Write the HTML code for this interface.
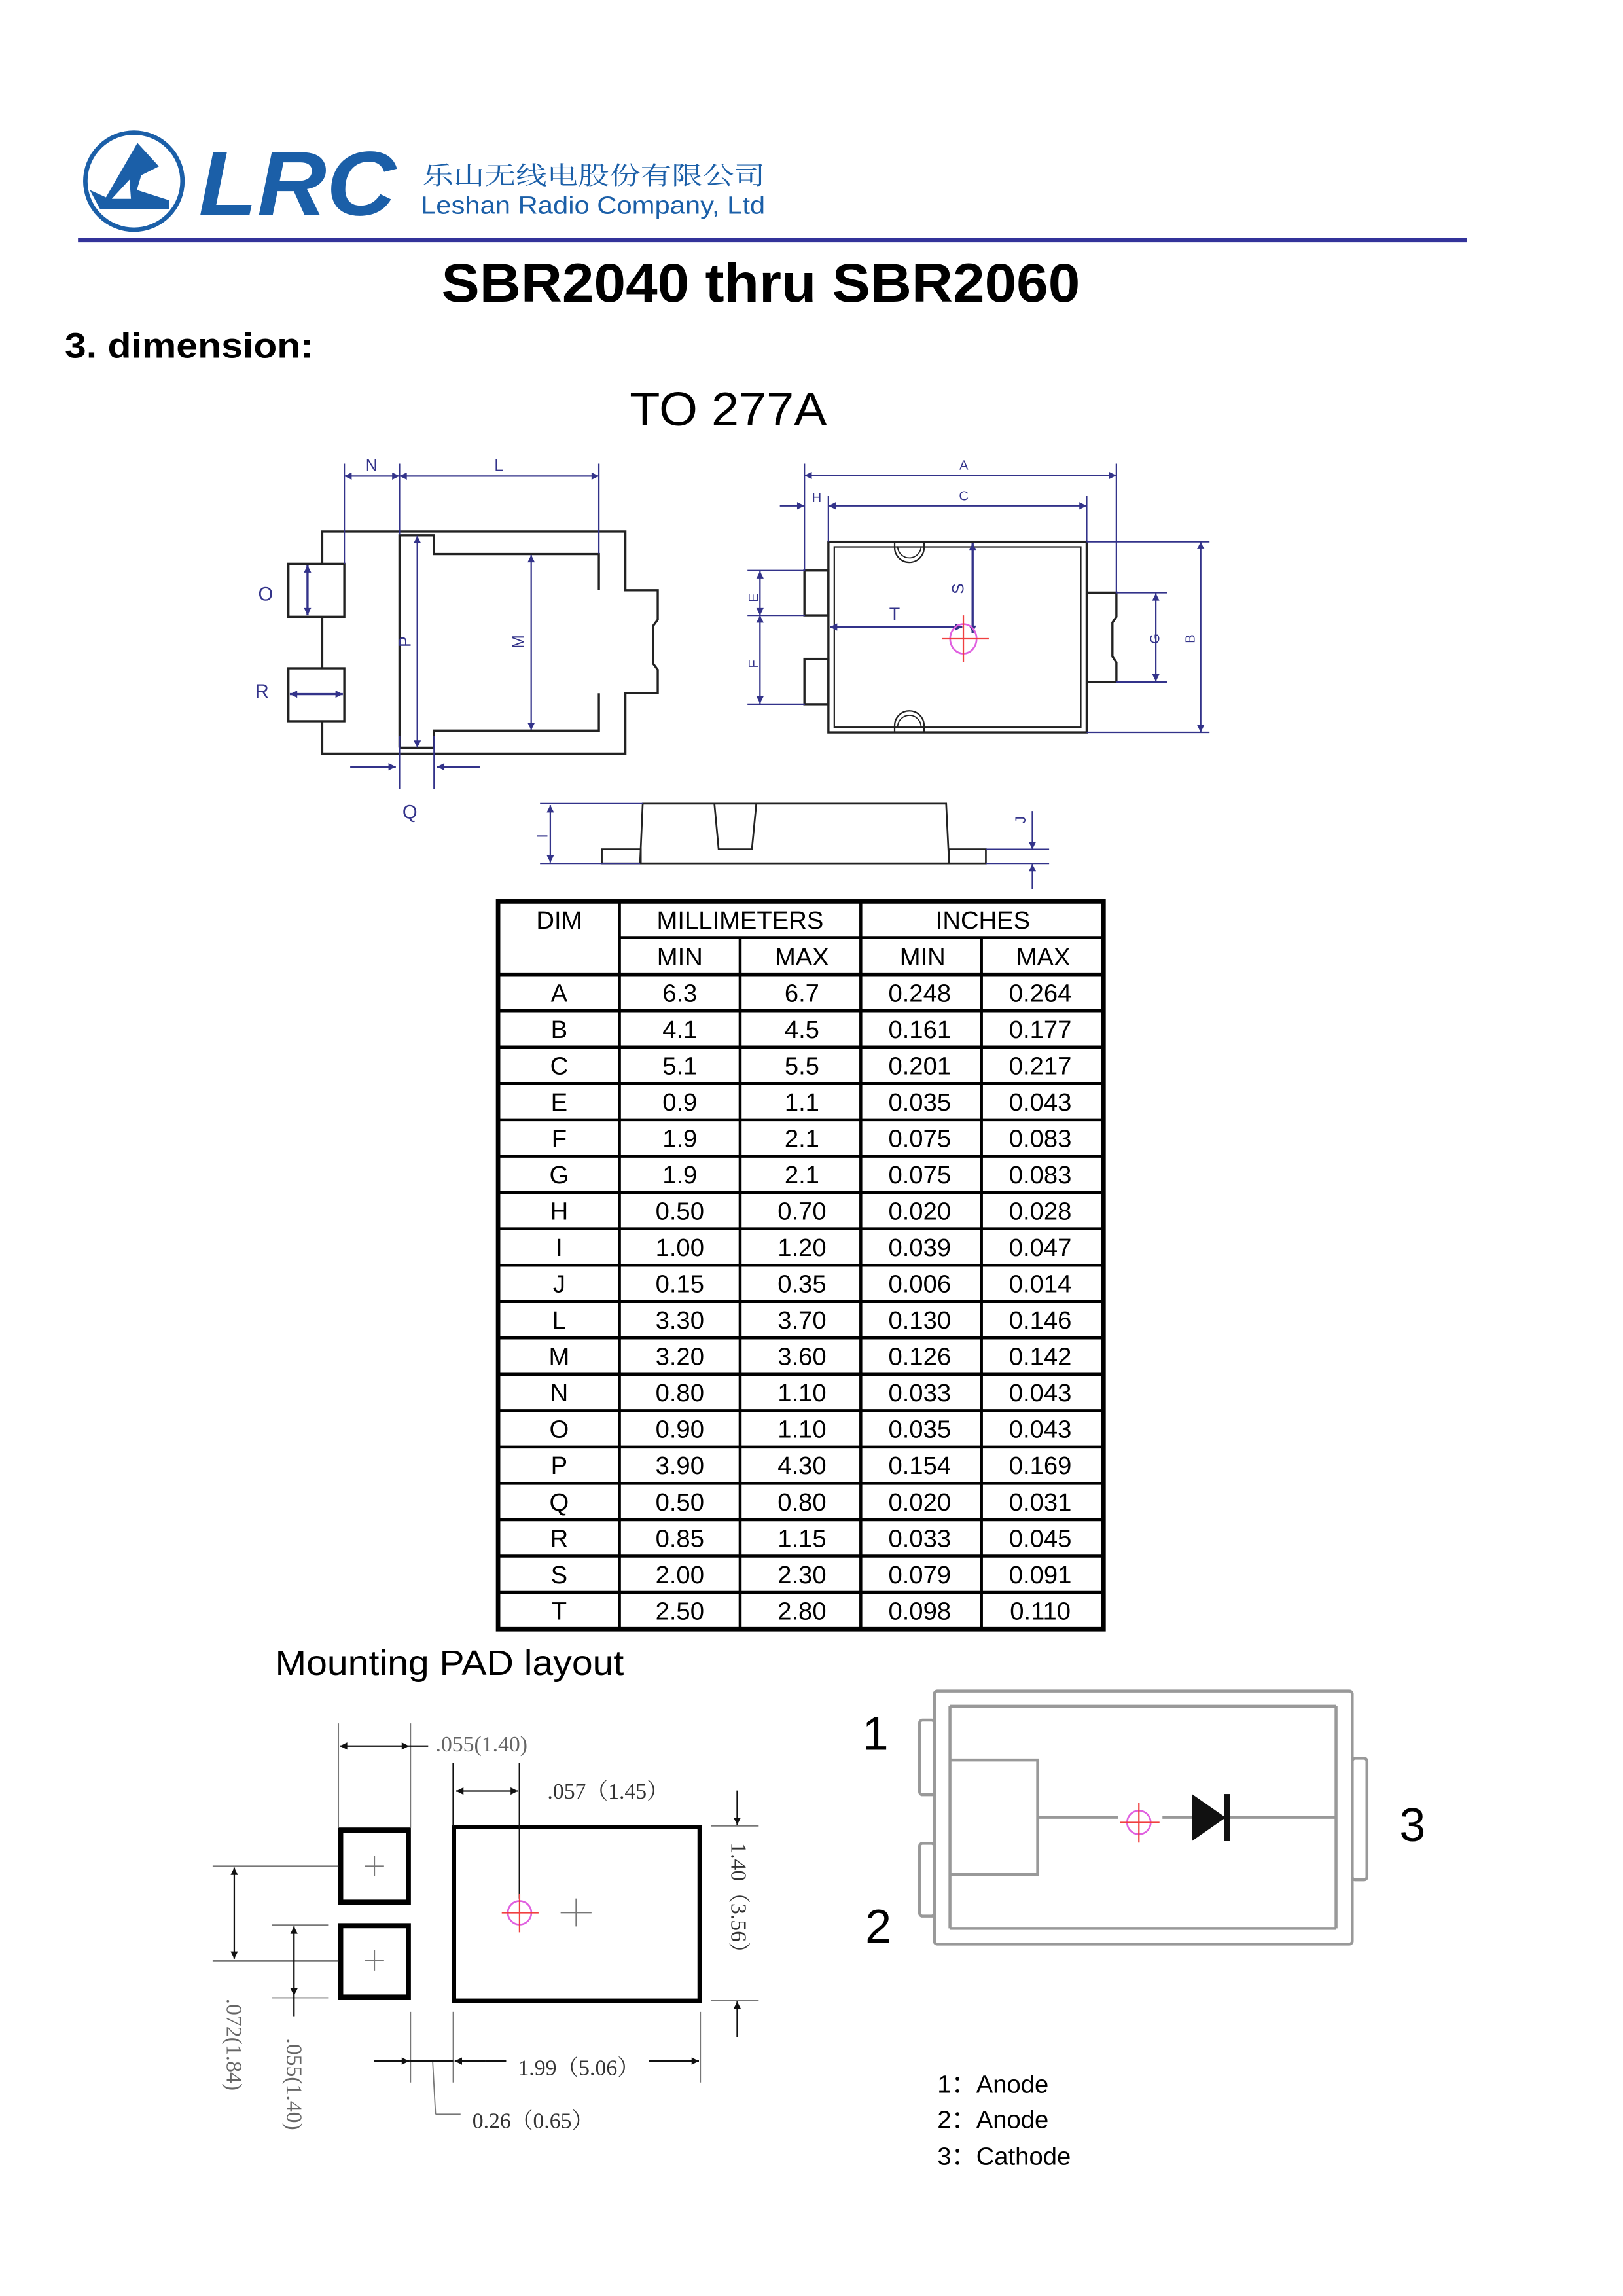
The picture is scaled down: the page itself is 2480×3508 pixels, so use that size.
<!DOCTYPE html>
<html><head><meta charset="utf-8"><style>
html,body{margin:0;padding:0;background:#fff;}
svg{display:block;}
text{font-family:"Liberation Sans","Noto Sans CJK SC",sans-serif;}
.ser{font-family:"Liberation Serif","Noto Serif CJK SC",serif;}
</style></head><body>
<svg width="2480" height="3508" viewBox="0 0 1103 1560" xmlns="http://www.w3.org/2000/svg">
<defs>
<marker id="ab" viewBox="0 0 10 10" refX="10" refY="5" markerWidth="7" markerHeight="5" orient="auto-start-reverse" markerUnits="userSpaceOnUse"><path d="M0,0 L10,5 L0,10 z" fill="#33338a"/></marker>
<marker id="ak" viewBox="0 0 10 10" refX="10" refY="5" markerWidth="8" markerHeight="5" orient="auto-start-reverse" markerUnits="userSpaceOnUse"><path d="M0,0 L10,5 L0,10 z" fill="#111"/></marker>
</defs>
<rect width="1103" height="1560" fill="#fff"/>

<!-- Header logo -->
<circle cx="91" cy="123" r="33" fill="none" stroke="#1b5fa8" stroke-width="3"/>
<polygon points="93.4,97 108,113 96,119 93,129 115,136 115,142 68,142 61,129 72,134" fill="#1b5fa8"/>
<polygon points="76,135 89,135 88,122" fill="#fff"/>
<text x="135" y="146" font-size="62" font-weight="bold" font-style="italic" fill="#1b5fa8" textLength="134" lengthAdjust="spacingAndGlyphs">LRC</text>
<text x="287" y="125" font-size="17" fill="#1b5fa8" textLength="233" lengthAdjust="spacingAndGlyphs" style="font-family:'Noto Serif CJK SC','Noto Sans CJK SC',serif">乐山无线电股份有限公司</text>
<text x="286" y="145" font-size="17" fill="#1b5fa8" textLength="234" lengthAdjust="spacingAndGlyphs">Leshan Radio Company, Ltd</text>
<line x1="53" y1="163" x2="997" y2="163" stroke="#33339a" stroke-width="3"/>

<text x="300" y="205" font-size="37" font-weight="bold" textLength="434" lengthAdjust="spacingAndGlyphs">SBR2040  thru SBR2060</text>
<text x="44" y="243" font-size="24" font-weight="bold" textLength="169" lengthAdjust="spacingAndGlyphs">3.  dimension:</text>
<text x="428" y="289" font-size="32" textLength="134" lengthAdjust="spacingAndGlyphs">TO 277A</text>

<!-- Left drawing -->
<g fill="none" stroke="#222" stroke-width="1.5">
<path d="M219,383 L219,361 L425,361 L425,401 L447,401 L447,421 L444,425 L444,451 L447,455 L447,471 L425,471 L425,512 L219,512 L219,490"/>
<line x1="219" y1="419" x2="219" y2="454"/>
<rect x="196" y="383" width="38" height="36"/>
<rect x="196" y="454" width="38" height="36"/>
<path d="M271.5,508 L271.5,363.6 L295,363.6 L295,376.4 L407,376.4 L407,401"/>
<path d="M407,471 L407,496.4 L295,496.4 L295,508 L271.5,508"/>
</g>
<g stroke="#33338a" stroke-width="1" fill="none">
<line x1="234" y1="315" x2="234" y2="383"/>
<line x1="271.5" y1="315" x2="271.5" y2="363"/>
<line x1="407" y1="315" x2="407" y2="376"/>
<line x1="234" y1="323.4" x2="271.5" y2="323.4" marker-start="url(#ab)" marker-end="url(#ab)"/>
<line x1="271.5" y1="323.4" x2="407" y2="323.4" marker-start="url(#ab)" marker-end="url(#ab)"/>
<line x1="283.6" y1="364" x2="283.6" y2="508" marker-start="url(#ab)" marker-end="url(#ab)"/>
<line x1="361" y1="377" x2="361" y2="496" marker-start="url(#ab)" marker-end="url(#ab)"/>
<line x1="209" y1="384" x2="209" y2="418" stroke-width="1.5" marker-start="url(#ab)" marker-end="url(#ab)"/>
<line x1="197" y1="471.6" x2="233" y2="471.6" stroke-width="1.5" marker-start="url(#ab)" marker-end="url(#ab)"/>
<line x1="271.5" y1="500" x2="271.5" y2="536"/>
<line x1="295" y1="500" x2="295" y2="536"/>
<line x1="238" y1="521" x2="269" y2="521" stroke-width="1.5" marker-end="url(#ab)"/>
<line x1="326" y1="521" x2="297" y2="521" stroke-width="1.5" marker-end="url(#ab)"/>
</g>
<g fill="#33338a" font-size="11">
<text x="252.5" y="320" text-anchor="middle">N</text>
<text x="339" y="320" text-anchor="middle">L</text>
<text x="180.5" y="408" text-anchor="middle" font-size="13">O</text>
<text x="178" y="474" text-anchor="middle" font-size="13">R</text>
<text x="278.5" y="556" text-anchor="middle" font-size="13">Q</text>
<text transform="translate(279,436) rotate(-90)" text-anchor="middle">P</text>
<text transform="translate(356,436) rotate(-90)" text-anchor="middle">M</text>
</g>

<!-- Right drawing -->
<g fill="none" stroke="#222" stroke-width="1.5">
<rect x="563" y="368" width="175.5" height="129.6"/>
<rect x="567" y="371.5" width="167.5" height="122.6" stroke-width="1"/>
<rect x="546.7" y="387.6" width="16.3" height="30.4"/>
<rect x="546.7" y="447.6" width="16.3" height="30.8"/>
<path d="M738.5,402.6 L758.7,402.6 L758.7,419 L756,423 L756,446 L758.7,450 L758.7,463.4 L738.5,463.4"/>
<path d="M608,369 L608,372 A10,10 0 0 0 628,372 L628,369" stroke-width="1"/>
<path d="M610,371 A8,8 0 0 0 626,371" stroke-width="0.8"/>
<path d="M608,497 L608,493 A10,10 0 0 1 628,493 L628,497" stroke-width="1"/>
<path d="M610,494 A8,8 0 0 1 626,494" stroke-width="0.8"/>
</g>
<g stroke="#33338a" stroke-width="1" fill="none">
<line x1="546.7" y1="315" x2="546.7" y2="388"/>
<line x1="758.7" y1="315" x2="758.7" y2="403"/>
<line x1="546.7" y1="323" x2="758.7" y2="323" marker-start="url(#ab)" marker-end="url(#ab)"/>
<line x1="563" y1="337" x2="563" y2="368"/>
<line x1="738.5" y1="337" x2="738.5" y2="368"/>
<line x1="530" y1="343.6" x2="546.7" y2="343.6" marker-end="url(#ab)"/>
<line x1="563" y1="343.6" x2="738.5" y2="343.6" marker-start="url(#ab)" marker-end="url(#ab)"/>
<line x1="508" y1="387.6" x2="547" y2="387.6"/>
<line x1="508" y1="418" x2="547" y2="418"/>
<line x1="508" y1="478.4" x2="547" y2="478.4"/>
<line x1="516.5" y1="388" x2="516.5" y2="418" marker-start="url(#ab)" marker-end="url(#ab)"/>
<line x1="516.5" y1="418" x2="516.5" y2="478" marker-start="url(#ab)" marker-end="url(#ab)"/>
<line x1="661" y1="369" x2="661" y2="430" stroke-width="1.5" marker-start="url(#ab)" marker-end="url(#ab)"/>
<line x1="564" y1="426" x2="654" y2="426" stroke-width="1.5" marker-start="url(#ab)" marker-end="url(#ab)"/>
<line x1="758.7" y1="402.6" x2="793" y2="402.6"/>
<line x1="758.7" y1="463.4" x2="793" y2="463.4"/>
<line x1="785.5" y1="403" x2="785.5" y2="463" marker-start="url(#ab)" marker-end="url(#ab)"/>
<line x1="738.5" y1="368" x2="822" y2="368"/>
<line x1="738.5" y1="497.6" x2="822" y2="497.6"/>
<line x1="816" y1="368" x2="816" y2="497.6" marker-start="url(#ab)" marker-end="url(#ab)"/>
</g>
<ellipse cx="654.7" cy="434" rx="9" ry="10" fill="none" stroke="#e060e0" stroke-width="1.2"/>
<line x1="640" y1="434" x2="672" y2="434" stroke="#f04040" stroke-width="1"/>
<line x1="654.7" y1="418" x2="654.7" y2="450" stroke="#f04040" stroke-width="1"/>
<g fill="#33338a" font-size="9">
<text x="655" y="319" text-anchor="middle">A</text>
<text x="555" y="341" text-anchor="middle">H</text>
<text x="655" y="340" text-anchor="middle">C</text>
<text x="608" y="421" text-anchor="middle" font-size="12">T</text>
<text transform="translate(515,406) rotate(-90)" text-anchor="middle">E</text>
<text transform="translate(515,451) rotate(-90)" text-anchor="middle">F</text>
<text transform="translate(655,400) rotate(-90)" text-anchor="middle" font-size="11">S</text>
<text transform="translate(788,434) rotate(-90)" text-anchor="middle">G</text>
<text transform="translate(812,434) rotate(-90)" text-anchor="middle">B</text>
</g>

<!-- Side view -->
<g fill="none" stroke="#222" stroke-width="1.2">
<path d="M436.8,546 L643,546 L645,586.6 L435,586.6 Z"/>
<rect x="409" y="577" width="26.5" height="9.6"/>
<rect x="645" y="577" width="25" height="9.6"/>
<path d="M485.5,546 L488.4,577 L511,577 L514,546"/>
</g>
<g stroke="#33338a" stroke-width="1" fill="none">
<line x1="367" y1="546" x2="437" y2="546"/>
<line x1="367" y1="586.6" x2="435" y2="586.6"/>
<line x1="374" y1="547" x2="374" y2="586" marker-start="url(#ab)" marker-end="url(#ab)"/>
<line x1="670" y1="577" x2="713" y2="577"/>
<line x1="670" y1="586.6" x2="713" y2="586.6"/>
<line x1="701.6" y1="551" x2="701.6" y2="577" marker-end="url(#ab)"/>
<line x1="701.6" y1="604" x2="701.6" y2="587" marker-end="url(#ab)"/>
</g>
<g fill="#33338a" font-size="10">
<text transform="translate(372,568) rotate(-90)" text-anchor="middle">I</text>
<text transform="translate(697,557) rotate(-90)" text-anchor="middle">J</text>
</g>

<!-- Table -->
<g stroke="#000" fill="none">
<rect x="338.5" y="612.5" width="411.5" height="494.5" stroke-width="3"/>
<g stroke-width="2">
<line x1="421" y1="612" x2="421" y2="1107"/>
<line x1="585" y1="612" x2="585" y2="1107"/>
<line x1="503" y1="637" x2="503" y2="1107"/>
<line x1="667" y1="637" x2="667" y2="1107"/>
<line x1="421" y1="637" x2="750" y2="637"/>
<line x1="338" y1="662" x2="750" y2="662" stroke-width="2.5"/>
<line x1="338" y1="686.7" x2="750" y2="686.7"/><line x1="338" y1="711.4" x2="750" y2="711.4"/><line x1="338" y1="736.1" x2="750" y2="736.1"/><line x1="338" y1="760.8" x2="750" y2="760.8"/><line x1="338" y1="785.6" x2="750" y2="785.6"/><line x1="338" y1="810.3" x2="750" y2="810.3"/><line x1="338" y1="835" x2="750" y2="835"/><line x1="338" y1="859.7" x2="750" y2="859.7"/><line x1="338" y1="884.4" x2="750" y2="884.4"/><line x1="338" y1="909.1" x2="750" y2="909.1"/><line x1="338" y1="933.8" x2="750" y2="933.8"/><line x1="338" y1="958.5" x2="750" y2="958.5"/><line x1="338" y1="983.2" x2="750" y2="983.2"/><line x1="338" y1="1007.9" x2="750" y2="1007.9"/><line x1="338" y1="1032.6" x2="750" y2="1032.6"/><line x1="338" y1="1057.3" x2="750" y2="1057.3"/><line x1="338" y1="1082" x2="750" y2="1082"/>
</g></g>
<g font-size="17" text-anchor="middle" fill="#000">
<text x="380" y="631">DIM</text><text x="503" y="631">MILLIMETERS</text><text x="668" y="631">INCHES</text>
<text x="462" y="656">MIN</text><text x="545" y="656">MAX</text><text x="627" y="656">MIN</text><text x="709" y="656">MAX</text>
</g>
<g font-size="17" text-anchor="middle" fill="#000">
<g transform="translate(0,680.5)"><text x="380">A</text><text x="462">6.3</text><text x="545">6.7</text><text x="625">0.248</text><text x="707">0.264</text></g>
<g transform="translate(0,705.2)"><text x="380">B</text><text x="462">4.1</text><text x="545">4.5</text><text x="625">0.161</text><text x="707">0.177</text></g>
<g transform="translate(0,729.9)"><text x="380">C</text><text x="462">5.1</text><text x="545">5.5</text><text x="625">0.201</text><text x="707">0.217</text></g>
<g transform="translate(0,754.6)"><text x="380">E</text><text x="462">0.9</text><text x="545">1.1</text><text x="625">0.035</text><text x="707">0.043</text></g>
<g transform="translate(0,779.3)"><text x="380">F</text><text x="462">1.9</text><text x="545">2.1</text><text x="625">0.075</text><text x="707">0.083</text></g>
<g transform="translate(0,804)"><text x="380">G</text><text x="462">1.9</text><text x="545">2.1</text><text x="625">0.075</text><text x="707">0.083</text></g>
<g transform="translate(0,828.7)"><text x="380">H</text><text x="462">0.50</text><text x="545">0.70</text><text x="625">0.020</text><text x="707">0.028</text></g>
<g transform="translate(0,853.4)"><text x="380">I</text><text x="462">1.00</text><text x="545">1.20</text><text x="625">0.039</text><text x="707">0.047</text></g>
<g transform="translate(0,878.1)"><text x="380">J</text><text x="462">0.15</text><text x="545">0.35</text><text x="625">0.006</text><text x="707">0.014</text></g>
<g transform="translate(0,902.8)"><text x="380">L</text><text x="462">3.30</text><text x="545">3.70</text><text x="625">0.130</text><text x="707">0.146</text></g>
<g transform="translate(0,927.5)"><text x="380">M</text><text x="462">3.20</text><text x="545">3.60</text><text x="625">0.126</text><text x="707">0.142</text></g>
<g transform="translate(0,952.2)"><text x="380">N</text><text x="462">0.80</text><text x="545">1.10</text><text x="625">0.033</text><text x="707">0.043</text></g>
<g transform="translate(0,976.9)"><text x="380">O</text><text x="462">0.90</text><text x="545">1.10</text><text x="625">0.035</text><text x="707">0.043</text></g>
<g transform="translate(0,1001.6)"><text x="380">P</text><text x="462">3.90</text><text x="545">4.30</text><text x="625">0.154</text><text x="707">0.169</text></g>
<g transform="translate(0,1026.3)"><text x="380">Q</text><text x="462">0.50</text><text x="545">0.80</text><text x="625">0.020</text><text x="707">0.031</text></g>
<g transform="translate(0,1051)"><text x="380">R</text><text x="462">0.85</text><text x="545">1.15</text><text x="625">0.033</text><text x="707">0.045</text></g>
<g transform="translate(0,1075.7)"><text x="380">S</text><text x="462">2.00</text><text x="545">2.30</text><text x="625">0.079</text><text x="707">0.091</text></g>
<g transform="translate(0,1100.4)"><text x="380">T</text><text x="462">2.50</text><text x="545">2.80</text><text x="625">0.098</text><text x="707">0.110</text></g>
</g>

<!-- Mounting PAD layout -->
<text x="187" y="1138" font-size="24" textLength="237" lengthAdjust="spacingAndGlyphs">Mounting PAD layout</text>
<g fill="none" stroke="#000">
<rect x="231.5" y="1243.5" width="46" height="49" stroke-width="3.5"/>
<rect x="231.5" y="1308.5" width="46" height="48.5" stroke-width="3.5"/>
<rect x="308.5" y="1241.5" width="167" height="118" stroke-width="3"/>
</g>
<g stroke="#777" stroke-width="0.8" fill="none">
<line x1="248" y1="1268" x2="261" y2="1268"/><line x1="254.5" y1="1261" x2="254.5" y2="1275"/>
<line x1="248" y1="1332" x2="261" y2="1332"/><line x1="254.5" y1="1325" x2="254.5" y2="1339"/>
<line x1="381" y1="1299.7" x2="402" y2="1299.7"/><line x1="391.5" y1="1290" x2="391.5" y2="1309"/>
<line x1="230" y1="1171" x2="230" y2="1242"/><line x1="279" y1="1171" x2="279" y2="1242"/>
<line x1="144.5" y1="1268" x2="230" y2="1268"/><line x1="144.5" y1="1332.3" x2="230" y2="1332.3"/>
<line x1="185" y1="1308" x2="223" y2="1308"/><line x1="185" y1="1357.5" x2="223" y2="1357.5"/>
<line x1="279" y1="1367" x2="279" y2="1415"/><line x1="308" y1="1367" x2="308" y2="1415"/><line x1="476" y1="1367" x2="476" y2="1415"/>
<line x1="483" y1="1240.7" x2="515.6" y2="1240.7"/><line x1="483" y1="1359.2" x2="515.6" y2="1359.2"/>
<line x1="294" y1="1400" x2="296" y2="1436.6"/><line x1="296" y1="1436.6" x2="313" y2="1436.6"/>
</g>
<g stroke="#111" stroke-width="1" fill="none">
<line x1="308" y1="1198" x2="308" y2="1241"/>
<line x1="353" y1="1198" x2="353" y2="1290"/>
<line x1="310" y1="1217" x2="352" y2="1217" marker-start="url(#ak)" marker-end="url(#ak)"/>
<line x1="231" y1="1186.4" x2="278" y2="1186.4" marker-start="url(#ak)" marker-end="url(#ak)"/>
<line x1="278" y1="1186.4" x2="291" y2="1186.4"/>
<line x1="501" y1="1216.6" x2="501" y2="1240" marker-end="url(#ak)"/>
<line x1="501" y1="1384" x2="501" y2="1360" marker-end="url(#ak)"/>
<line x1="254" y1="1400.5" x2="278" y2="1400.5" marker-end="url(#ak)"/>
<line x1="278" y1="1400.5" x2="308" y2="1400.5"/>
<line x1="330" y1="1400.5" x2="309" y2="1400.5" marker-end="url(#ak)"/>
<line x1="330" y1="1400.5" x2="344" y2="1400.5"/>
<line x1="441" y1="1400.5" x2="475" y2="1400.5" marker-end="url(#ak)"/>
<line x1="159.2" y1="1269" x2="159.2" y2="1331" marker-start="url(#ak)" marker-end="url(#ak)"/>
<line x1="199.8" y1="1309" x2="199.8" y2="1356" marker-start="url(#ak)" marker-end="url(#ak)"/>
<line x1="199.8" y1="1356" x2="199.8" y2="1370"/>
</g>
<circle cx="353.1" cy="1299.7" r="8" fill="none" stroke="#e060e0" stroke-width="1.2"/>
<line x1="341" y1="1299.7" x2="366" y2="1299.7" stroke="#f04040" stroke-width="1"/>
<line x1="353.1" y1="1287" x2="353.1" y2="1313" stroke="#f04040" stroke-width="1"/>
<g class="ser" fill="#333" font-size="15">
<text class="ser" x="296" y="1190" fill="#666">.055(1.40)</text>
<text class="ser" x="372" y="1222">.057（1.45）</text>
<text class="ser" x="352" y="1410">1.99（5.06）</text>
<text class="ser" x="321" y="1446">0.26（0.65）</text>
<text class="ser" transform="translate(497,1252) rotate(90)">1.40（3.56）</text>
<text class="ser" transform="translate(154,1358) rotate(90)" fill="#666">.072(1.84)</text>
<text class="ser" transform="translate(195,1385) rotate(90)" fill="#666">.055(1.40)</text>
</g>

<!-- Right pin diagram -->
<g fill="none" stroke="#999" stroke-width="2">
<rect x="635" y="1149" width="284" height="172" rx="2"/>
<line x1="645.6" y1="1159.3" x2="908" y2="1159.3"/>
<line x1="645.6" y1="1310.3" x2="908" y2="1310.3"/>
<line x1="645.6" y1="1159.3" x2="645.6" y2="1310.3"/>
<line x1="908" y1="1159.3" x2="908" y2="1310.3"/>
<rect x="625" y="1168.7" width="10" height="50.8" rx="2"/>
<rect x="625" y="1252.5" width="10" height="49.5" rx="2"/>
<rect x="919" y="1194.7" width="10" height="82.6" rx="2"/>
<path d="M645.6,1195.9 L705.2,1195.9 L705.2,1273.7 L645.6,1273.7"/>
<line x1="705.2" y1="1234.8" x2="760" y2="1234.8"/>
<line x1="790" y1="1234.8" x2="908" y2="1234.8"/>
</g>
<polygon points="810,1219 810,1251 833,1235" fill="#111"/>
<rect x="832" y="1219" width="4" height="32" fill="#111"/>
<circle cx="774" cy="1238.3" r="8" fill="none" stroke="#e060e0" stroke-width="1.2"/>
<line x1="761" y1="1238.3" x2="788" y2="1238.3" stroke="#f04040" stroke-width="1"/>
<line x1="774" y1="1225" x2="774" y2="1252" stroke="#f04040" stroke-width="1"/>
<g font-size="32" fill="#000">
<text x="586" y="1189">1</text>
<text x="588" y="1320">2</text>
<text x="951" y="1251">3</text>
</g>
<g font-size="17" fill="#000">
<text x="637" y="1422">1：Anode</text>
<text x="637" y="1446">2：Anode</text>
<text x="637" y="1471">3：Cathode</text>
</g>
</svg>
</body></html>
